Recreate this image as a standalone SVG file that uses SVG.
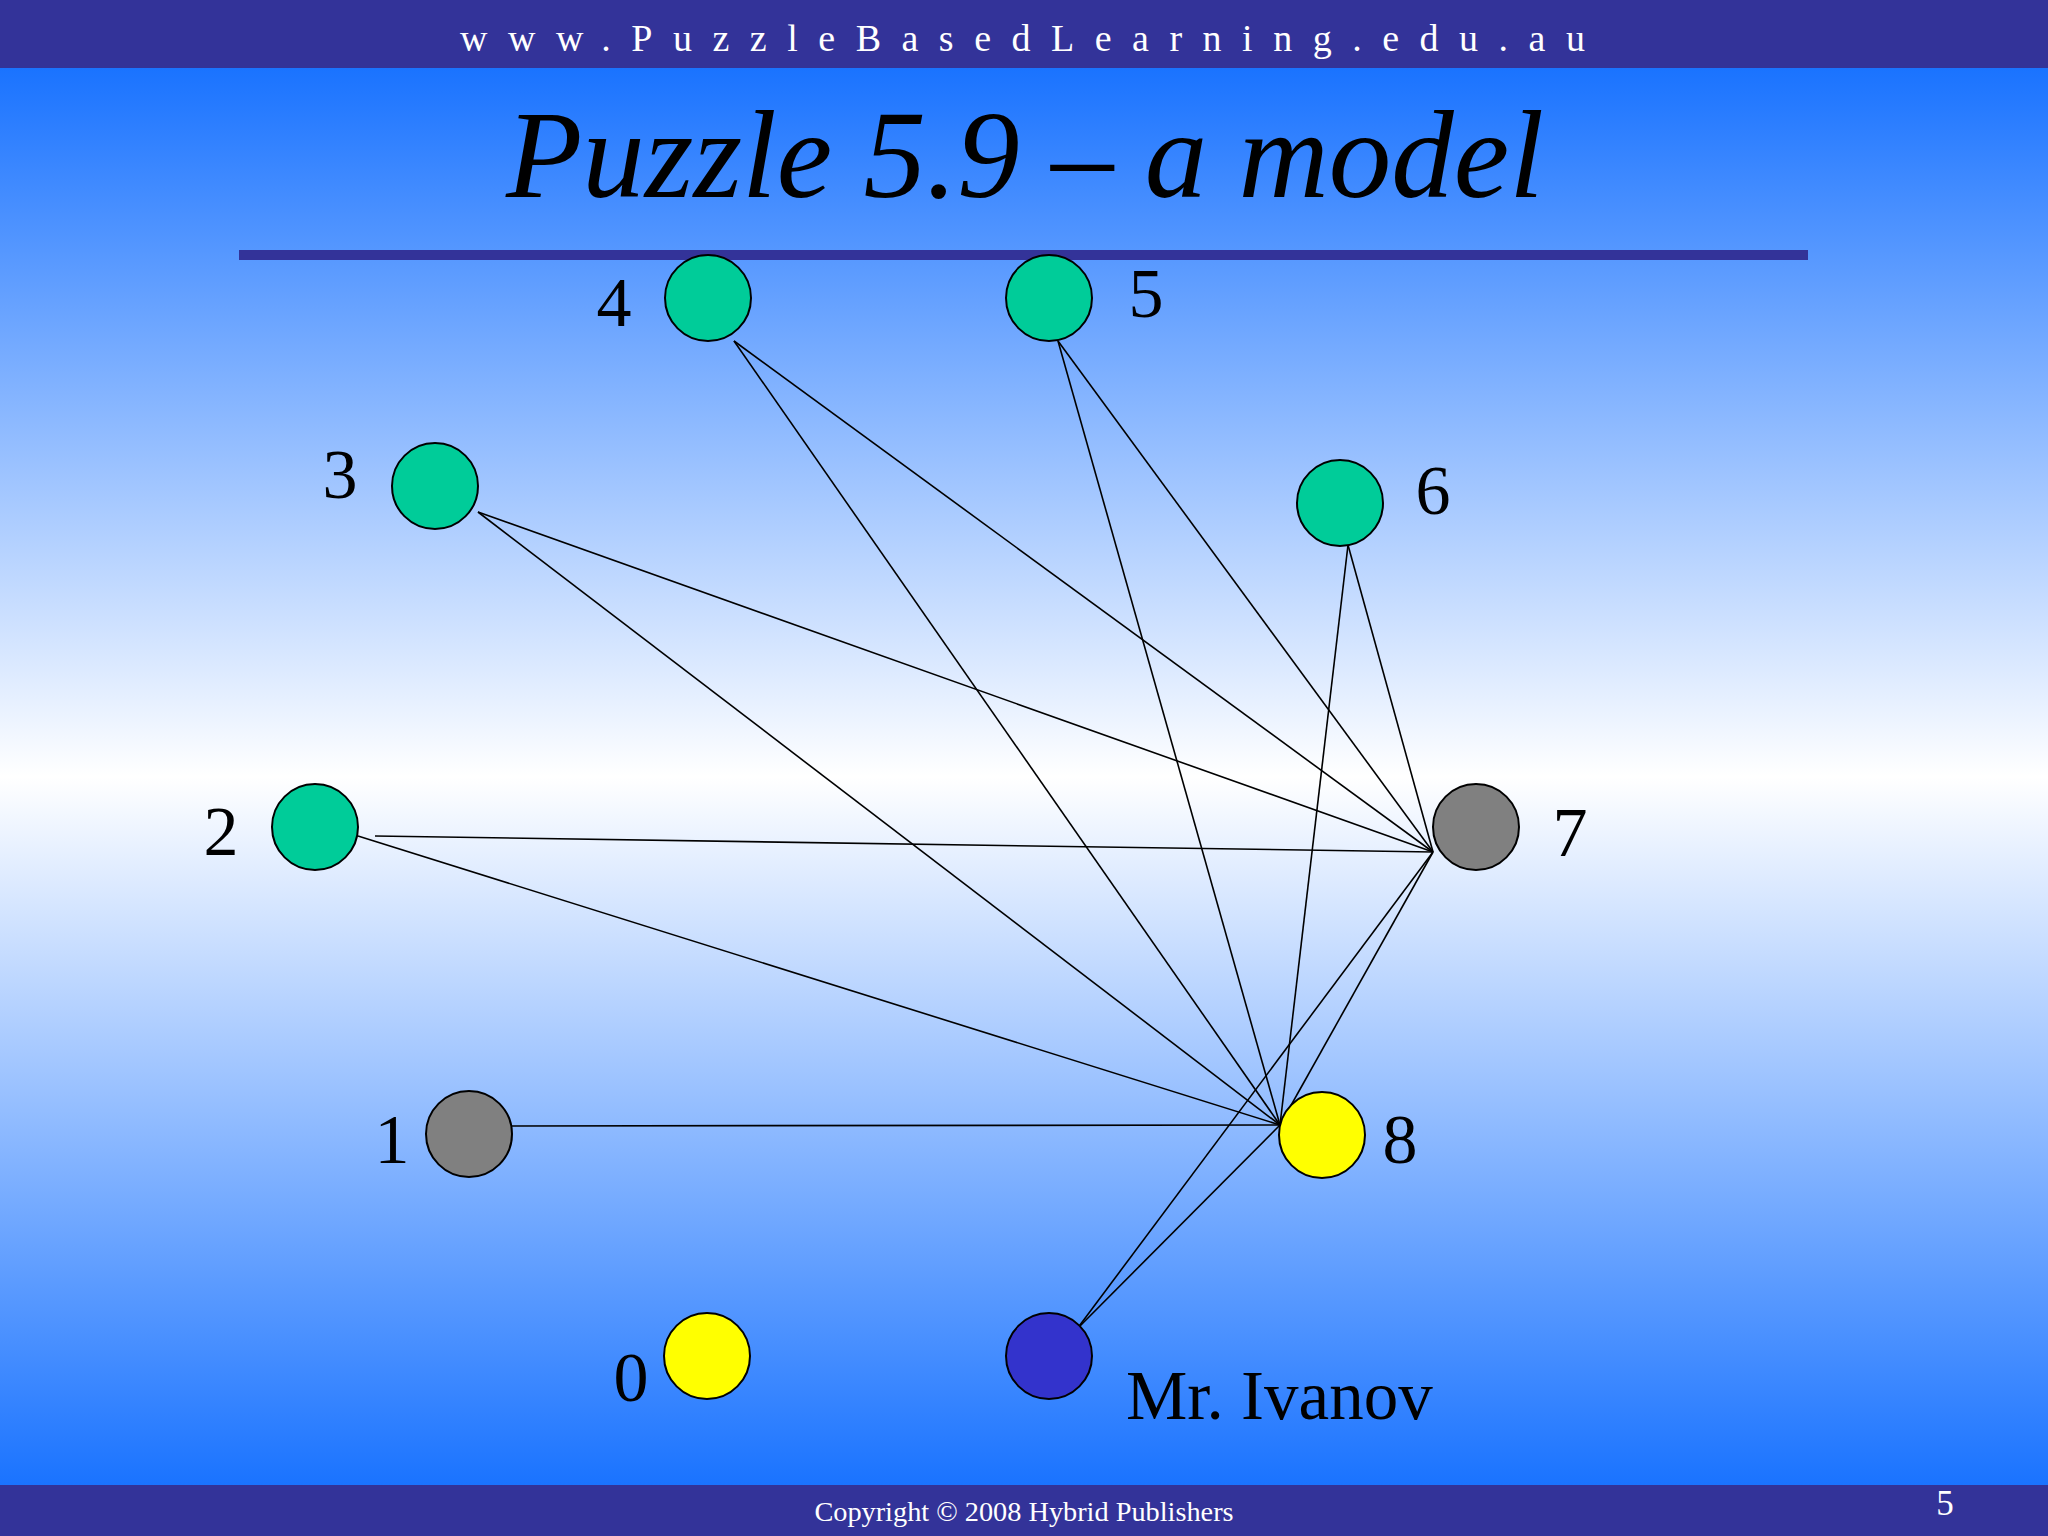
<svg xmlns="http://www.w3.org/2000/svg" width="2048" height="1536" viewBox="0 0 2048 1536">
<defs>
<linearGradient id="bg" x1="0" y1="68" x2="0" y2="1485" gradientUnits="userSpaceOnUse">
<stop offset="0" stop-color="#1a73ff"/>
<stop offset="0.5" stop-color="#ffffff"/>
<stop offset="1" stop-color="#1a73ff"/>
</linearGradient>
<style>
.band{fill:#333399}
.serif{font-family:"Liberation Serif","Times New Roman",serif}
.lbl{font-family:"Liberation Serif","Times New Roman",serif;font-size:70px;fill:#000;text-anchor:middle}
.node{stroke:#000;stroke-width:2}
.green{fill:#00cc99}
.gray{fill:#808080}
.yellow{fill:#ffff00}
.blue{fill:#3333cc}
.edges line{stroke:#000;stroke-width:1.6}
</style>
</defs>
<rect x="0" y="0" width="2048" height="1536" fill="url(#bg)"/>
<rect class="band" x="0" y="0" width="2048" height="68"/>
<rect class="band" x="0" y="1485" width="2048" height="51"/>
<text class="serif" x="460" y="51" font-size="38" letter-spacing="20.5" fill="#fff">www.PuzzleBasedLearning.edu.au</text>
<text class="serif" x="1025" y="197" font-size="125" font-style="italic" text-anchor="middle" fill="#000">Puzzle 5.9 – a model</text>
<rect class="band" x="239" y="250" width="1569" height="10"/>
<g id="connectors" class="edges">
<line x1="375" y1="836" x2="1433" y2="852"/>
<line x1="478" y1="512" x2="1433" y2="852"/>
<line x1="734" y1="341" x2="1433" y2="852"/>
<line x1="1058" y1="341" x2="1433" y2="852"/>
<line x1="1348" y1="545" x2="1433" y2="852"/>
<line x1="1280" y1="1125" x2="1433" y2="852"/>
<line x1="1077" y1="1329" x2="1433" y2="852"/>
<line x1="512" y1="1126" x2="1280" y2="1125"/>
<line x1="358" y1="836" x2="1280" y2="1125"/>
<line x1="478" y1="512" x2="1280" y2="1125"/>
<line x1="734" y1="341" x2="1280" y2="1125"/>
<line x1="1058" y1="341" x2="1280" y2="1125"/>
<line x1="1348" y1="545" x2="1280" y2="1125"/>
<line x1="1077" y1="1329" x2="1280" y2="1125"/>
</g>
<g id="node0"><circle class="node yellow" cx="707" cy="1356" r="43"/><text class="lbl" x="631" y="1401">0</text></g>
<g id="node1"><circle class="node gray" cx="469" cy="1134" r="43"/><text class="lbl" x="392" y="1163">1</text></g>
<g id="node2"><circle class="node green" cx="315" cy="827" r="43"/><text class="lbl" x="221" y="855">2</text></g>
<g id="node3"><circle class="node green" cx="435" cy="486" r="43"/><text class="lbl" x="340" y="498">3</text></g>
<g id="node4"><circle class="node green" cx="708" cy="298" r="43"/><text class="lbl" x="614" y="326">4</text></g>
<g id="node5"><circle class="node green" cx="1049" cy="298" r="43"/><text class="lbl" x="1146" y="317">5</text></g>
<g id="node6"><circle class="node green" cx="1340" cy="503" r="43"/><text class="lbl" x="1433" y="514">6</text></g>
<g id="node7"><circle class="node gray" cx="1476" cy="827" r="43"/><text class="lbl" x="1570" y="856">7</text></g>
<g id="node8"><circle class="node yellow" cx="1322" cy="1135" r="43"/><text class="lbl" x="1400" y="1163">8</text></g>
<g id="ivanov"><circle class="node blue" cx="1049" cy="1356" r="43"/><text class="serif" x="1126" y="1419" font-size="69" fill="#000">Mr. Ivanov</text></g>
<text class="serif" x="1024" y="1521" font-size="28.3" text-anchor="middle" fill="#fff">Copyright © 2008 Hybrid Publishers</text>
<text class="serif" x="1945" y="1515" font-size="35" text-anchor="middle" fill="#fff">5</text>
</svg>
